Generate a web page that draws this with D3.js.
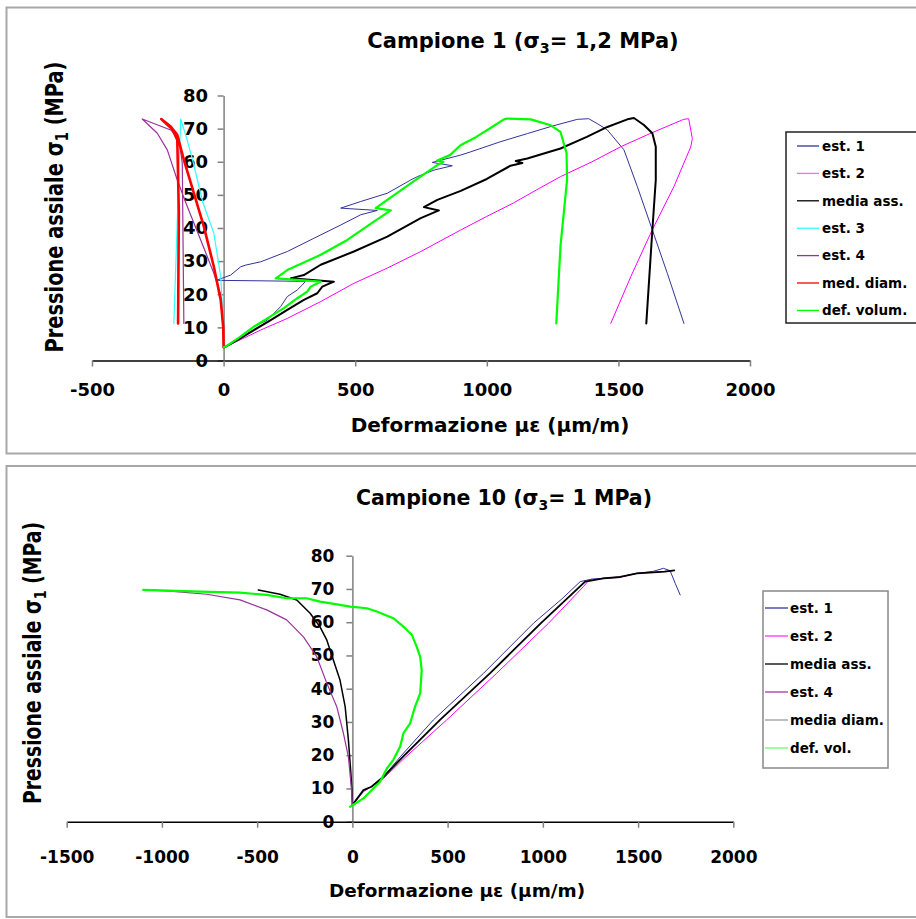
<!DOCTYPE html>
<html><head><meta charset="utf-8">
<script src="https://cdn.jsdelivr.net/npm/d3@7"></script>
<style>body{margin:0;background:#fff}svg{display:block}</style>
</head><body><svg id="c" width="916" height="919"></svg>
<script>
// ---------- DATA: Campione 1 (strain µε, axial pressure MPa) ----------
const c1Est1 = [[0,4],[8,4.2],[60,7],[115,10.2],[166,12.2],[217,16.3],[242,19.3],[280,21.3],[299,22.8],[311,23.9],[-27,24.2],[27,25.8],[65,28.3],[84,28.8],[141,29.8],[242,32.9],[343,36.9],[445,40.9],[521,44],[584,45.3],[445,46],[521,48],[622,50.5],[711,54.5],[736,55.5],[800,57.5],[869,58.8],[793,59.8],[900,62],[939,63],[1050,66],[1154,68.5],[1250,70.8],[1344,72.8],[1387,73],[1420,71.5],[1458,69.6],[1521,63.6],[1572,52.5],[1629,39.4],[1686,26.3],[1749,11.2]];
const c1Est2 = [[0,4],[8,4.2],[70,6.5],[141,9.2],[242,12.7],[369,17.8],[495,23.3],[622,27.9],[749,32.9],[901,39.4],[1000,43.5],[1100,47.5],[1200,52],[1280,55.5],[1400,60],[1508,64.5],[1620,68.5],[1748,72.8],[1767,73],[1781,67],[1775,64.5],[1711,52.5],[1629,39.5],[1547,25.3],[1471,11.2]];
const c1MediaAss = [[0,4],[8,4.2],[60,6.5],[115,9.2],[179,12.2],[242,15.3],[305,18.3],[356,20.3],[375,22.3],[419,23.8],[255,24.8],[305,25.8],[369,28.9],[495,32.9],[622,37.4],[749,43],[818,45.3],[761,46.3],[812,48.5],[901,51.2],[1000,54.8],[1090,58.8],[1135,59.6],[1110,60.2],[1154,61],[1280,64],[1380,67.5],[1458,70.5],[1534,72.8],[1559,73.2],[1597,71.1],[1629,68.6],[1642,64.5],[1642,54.5],[1629,39.4],[1606,11.2]];
const c1Est3 = [[0,4],[-2,10],[-6,18],[-11,25.3],[-37,38.4],[-80,48],[-116,60],[-140,67],[-163,72.9],[-189,11.2]];
const c1Est4 = [[0,4],[-4,12],[-12,20],[-37,26.3],[-87,36.4],[-138,46.5],[-176,54.5],[-214,63.6],[-252,68.6],[-309,72.9],[-201,69.6],[-170,67.1],[-157,59.6],[-151,11.2]];
const c1MedDiam = [[0,4],[-1,9.7],[-11,18.3],[-37,28.3],[-75,40.4],[-113,50.5],[-151,60.6],[-176,68.1],[-201,70.6],[-237,72.9],[-195,69.8],[-176,66.6],[-170,44.5],[-173,11.2]];
const c1DefVol = [[0,4],[8,4.2],[60,7],[115,10.2],[166,12.7],[229,15.8],[280,18.8],[318,20.8],[331,22.3],[369,23.8],[198,24.8],[242,27.3],[369,31.9],[470,36.4],[571,41.9],[635,45.3],[578,46],[622,48.5],[730,54.5],[812,59],[835,60],[810,60.3],[860,62],[900,65],[960,67.5],[1020,70.5],[1065,72.8],[1077,73],[1167,72.8],[1243,71],[1280,69],[1303,62.6],[1305,54.5],[1280,34.5],[1264,11.2]];

// ---------- DATA: Campione 10 ----------
const c10Est1 = [[0,5],[5,5.5],[58,9.5],[100,10.5],[163,13.5],[251,19.5],[425,30.6],[688,44.6],[951,59.7],[1100,67],[1196,72.2],[1260,73],[1318,73.2],[1406,73.6],[1494,74.7],[1580,75.3],[1633,76.2],[1668,75.5],[1695,71.7],[1721,68.2]];
const c10Est2 = [[0,5],[58,9],[163,13],[280,19.5],[495,30.6],[757,44.6],[1030,59.7],[1213,70.7],[1240,72.5],[1318,73.2],[1406,73.5],[1494,74.7],[1580,75],[1686,75.5]];
const c10MediaAss = [[0,5],[58,9.5],[100,10.5],[163,13.5],[265,19.5],[460,30.6],[722,44.6],[990,59.7],[1222,72.2],[1318,73.2],[1406,73.6],[1494,74.7],[1580,75],[1640,75.2],[1690,75.6]];
const c10Est3 = [[0,5],[-3,10],[-8,14.6],[-21,24.6],[-38,34.6],[-65,42.6],[-100,48.6],[-134,54.6],[-170,58.6],[-222,62.7],[-292,66.7],[-380,68.4],[-494,69.7]];
const c10Est4 = [[0,5],[-5,10],[-21,19.5],[-47,26.6],[-82,34.6],[-134,41.6],[-187,49.6],[-257,55.6],[-345,60.7],[-450,63.7],[-590,66.7],[-765,68.4],[-975,69.4],[-1098,69.7]];
const c10DefVol = [[-12,4.5],[58,7],[145,12],[181,16],[215,18.6],[251,22.6],[268,26.6],[303,29.6],[329,34.6],[356,38.6],[364,45.6],[356,49.6],[338,52.6],[312,56.2],[277,58.2],[215,61.2],[128,63.2],[76,64.2],[-12,64.7],[-65,65.2],[-170,66.2],[-240,67.2],[-345,67.2],[-450,68.2],[-590,68.9],[-800,69.2],[-1098,69.7]];

// ---------- TICKS / LABELS ----------
const yTicks = [0,10,20,30,40,50,60,70,80];
const c1XTicks = [-500,0,500,1000,1500,2000];
const c10XTicks = [-1500,-1000,-500,0,500,1000,1500,2000];
const c1Legend = ["est. 1","est. 2","media ass.","est. 3","est. 4","med. diam.","def. volum."];
const c10Legend = ["est. 1","est. 2","media ass.","est. 4","media diam.","def. vol."];

const FONT = '"DejaVu Sans", Arial, sans-serif';
const svg = d3.select("#c");

function drawChart(cfg) {
  const g = svg.append("g");
  g.append("rect").attr("x", cfg.frame[0]).attr("y", cfg.frame[1])
    .attr("width", cfg.frame[2]).attr("height", cfg.frame[3])
    .attr("fill", "none").attr("stroke", "#a8a8a8").attr("stroke-width", 2);

  const x = d3.scaleLinear().domain(cfg.xDomain).range(cfg.xRange);
  const y = d3.scaleLinear().domain([0, 80]).range(cfg.yRange);

  // title
  const t = g.append("text").attr("x", cfg.title.x).attr("y", cfg.title.y)
    .attr("text-anchor", "middle").attr("font-family", FONT).attr("font-weight", "bold")
    .attr("font-size", cfg.title.size);
  t.append("tspan").text(cfg.title.a);
  t.append("tspan").attr("font-size", cfg.title.size * 0.68).attr("dy", 5).text(cfg.title.sub);
  t.append("tspan").attr("dy", -5).text(cfg.title.b);

  // y axis
  const ya = g.append("g").attr("transform", `translate(${x(0)},0)`)
    .call(d3.axisLeft(y).tickValues(yTicks).tickSize(6).tickSizeOuter(0).tickPadding(cfg.yPad).tickFormat(d => String(d)));
  ya.attr("font-family", FONT).attr("font-size", cfg.tickSize).attr("font-weight", "bold");
  ya.select(".domain").attr("stroke", "#808080").attr("stroke-width", 1.5);
  ya.selectAll(".tick line").attr("stroke", "#808080").attr("stroke-width", 1.5);
  ya.selectAll(".tick text").attr("fill", "#000");

  // x axis
  const xa = g.append("g").attr("transform", `translate(0,${y(0)})`)
    .call(d3.axisBottom(x).tickValues(cfg.xTicks).tickSize(6).tickSizeOuter(0).tickPadding(cfg.xPad).tickFormat(d => String(d)));
  xa.attr("font-family", FONT).attr("font-size", cfg.tickSize).attr("font-weight", "bold");
  xa.select(".domain").attr("stroke", "#000").attr("stroke-width", 1.5);
  xa.selectAll(".tick line").attr("stroke", "#808080").attr("stroke-width", 1.5);
  xa.selectAll(".tick text").attr("fill", "#000");

  // x title
  g.append("text").attr("x", cfg.xTitle.x).attr("y", cfg.xTitle.y).attr("text-anchor", "middle")
    .attr("font-family", FONT).attr("font-weight", "bold").attr("font-size", cfg.xTitle.size)
    .text("Deformazione με (μm/m)");

  // y title
  const yt = g.append("text")
    .attr("transform", `translate(${cfg.yTitle.x},${cfg.yTitle.y}) rotate(-90) scale(1,1.3)`)
    .attr("text-anchor", "middle").attr("dy", "0.36em")
    .attr("font-family", FONT).attr("font-weight", "bold").attr("font-size", cfg.yTitle.size);
  yt.append("tspan").text("Pressione assiale σ");
  yt.append("tspan").attr("font-size", cfg.yTitle.size * 0.68).attr("dy", 4).text("1");
  yt.append("tspan").attr("dy", -4).text(" (MPa)");

  // series
  const line = d3.line().x(d => x(d[0])).y(d => y(d[1]));
  cfg.series.forEach(s => {
    g.append("path").datum(s.data).attr("d", line).attr("fill", "none")
      .attr("stroke", s.color).attr("stroke-width", s.width)
      .attr("stroke-linejoin", "round").attr("stroke-linecap", "round");
  });

  // legend
  const L = cfg.legend;
  g.append("rect").attr("x", L.x).attr("y", L.y).attr("width", L.w).attr("height", L.h)
    .attr("fill", "#fff").attr("stroke", L.stroke).attr("stroke-width", 1.5);
  L.items.forEach((name, i) => {
    const cy = L.row0 + i * L.step;
    g.append("line").attr("x1", L.sx1).attr("x2", L.sx2).attr("y1", cy).attr("y2", cy)
      .attr("stroke", L.colors[i]).attr("stroke-width", 1.3);
    g.append("text").attr("x", L.tx).attr("y", cy).attr("dy", "0.36em")
      .attr("font-family", FONT).attr("font-weight", "bold").attr("font-size", L.size)
      .text(name);
  });
}

drawChart({
  frame: [6.5, 7.5, 940, 446],
  xDomain: [-500, 2000], xRange: [92, 750], yRange: [360.5, 95.5],
  xTicks: c1XTicks, tickSize: 18, xPad: 17, yPad: 9.5,
  title: {x: 523, y: 48, size: 21, a: "Campione 1 (σ", sub: "3", b: "= 1,2 MPa)"},
  xTitle: {x: 490, y: 432, size: 20},
  yTitle: {x: 54, y: 207, size: 19.4},
  series: [
    {data: c1Est1, color: "#333399", width: 1},
    {data: c1Est2, color: "#ff00ff", width: 1},
    {data: c1MediaAss, color: "#000000", width: 2},
    {data: c1Est3, color: "#33ffff", width: 1.2},
    {data: c1Est4, color: "#993399", width: 1.2},
    {data: c1MedDiam, color: "#ff0000", width: 2.6},
    {data: c1DefVol, color: "#00ff00", width: 2.2}
  ],
  legend: {x: 786, y: 132, w: 160, h: 191, stroke: "#222", items: c1Legend,
    colors: ["#333399", "#ff66ff", "#000000", "#33ffff", "#993399", "#ff0000", "#00ff00"],
    row0: 146, step: 27.4, sx1: 797, sx2: 819, tx: 822, size: 13.5}
});

drawChart({
  frame: [6.5, 466, 940, 451],
  xDomain: [-1500, 2000], xRange: [66.7, 733.3], yRange: [821.7, 555.7],
  xTicks: c10XTicks, tickSize: 17, xPad: 23, yPad: 12,
  title: {x: 504, y: 505, size: 20.5, a: "Campione 10 (σ", sub: "3", b: "= 1 MPa)"},
  xTitle: {x: 457, y: 897, size: 18.4},
  yTitle: {x: 32, y: 663, size: 18.8},
  series: [
    {data: c10Est1, color: "#333399", width: 1},
    {data: c10Est2, color: "#ff00ff", width: 1},
    {data: c10MediaAss, color: "#000000", width: 1.8},
    {data: c10Est3, color: "#000000", width: 1.5},
    {data: c10Est4, color: "#993399", width: 1.2},
    {data: c10DefVol, color: "#00ff00", width: 2.2}
  ],
  legend: {x: 763, y: 591, w: 125, h: 177, stroke: "#888", items: c10Legend,
    colors: ["#333399", "#ff33ff", "#000000", "#aa33aa", "#999999", "#66ff66"],
    row0: 608, step: 28, sx1: 765, sx2: 788, tx: 790, size: 13.5}
});
</script></body></html>
